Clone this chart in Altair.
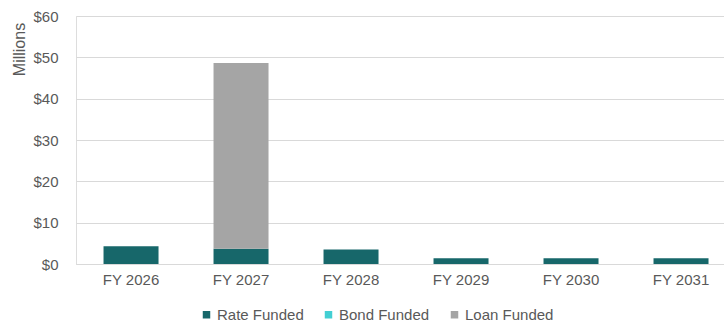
import altair as alt
import pandas as pd

years = ["FY 2026", "FY 2027", "FY 2028", "FY 2029", "FY 2030", "FY 2031"]
rate_funded = [4.3, 3.7, 3.5, 1.4, 1.4, 1.4]
bond_funded = [0, 0, 0, 0, 0, 0]
loan_funded = [0, 44.9, 0, 0, 0, 0]
series = ["Rate Funded", "Bond Funded", "Loan Funded"]
colors = ["#17676A", "#43CFD3", "#A5A5A5"]

rows = []
for i, y in enumerate(years):
    for k, (name, vals) in enumerate(zip(series, [rate_funded, bond_funded, loan_funded])):
        rows.append({"Year": y, "Source": name, "Value": vals[i], "Order": k})
df = pd.DataFrame(rows)

FONT = "Liberation Sans"
GRAY = "#595959"

chart = alt.Chart(df).mark_bar().encode(
    x=alt.X("Year:N", sort=years,
            scale=alt.Scale(paddingInner=0.5, paddingOuter=0.1955, align=0.64),
            axis=alt.Axis(title=None, labelAngle=0, ticks=False, tickSize=0,
                          domainColor="#d9d9d9", labelFontSize=15, labelColor=GRAY,
                          labelFont=FONT, labelPadding=8, grid=False)),
    y=alt.Y("Value:Q", stack="zero",
            scale=alt.Scale(domain=[0, 60], nice=False),
            axis=alt.Axis(title="Millions", values=[0, 10, 20, 30, 40, 50, 60],
                          format="$,.0f", ticks=False, tickSize=0, domain=False,
                          gridColor="#d9d9d9", labelFontSize=15, labelColor=GRAY,
                          labelFont=FONT, labelPadding=18,
                          titleFont=FONT, titleFontSize=16, titleFontWeight="normal",
                          titleColor=GRAY, titleX=-57, titleY=33, titleAlign="center",
                          titleBaseline="middle")),
    color=alt.Color("Source:N", sort=series,
                    scale=alt.Scale(domain=series, range=colors),
                    legend=alt.Legend(title=None, orient="none", direction="horizontal",
                                      legendX=123, legendY=291, padding=0,
                                      symbolType="square", symbolSize=56,
                                      symbolStrokeWidth=0, labelFontSize=15,
                                      labelFont=FONT, labelColor=GRAY, labelOffset=3,
                                      columnPadding=17)),
    order=alt.Order("Order:Q", sort="ascending"),
).properties(
    width=648, height=248,
    autosize=alt.AutoSizeParams(type="none"),
    padding={"left": 76, "top": 16, "right": 0, "bottom": 61},
).configure_view(stroke=None).configure(background="white")

chart.save("out.html", embed_options={"renderer": "svg", "actions": False})
